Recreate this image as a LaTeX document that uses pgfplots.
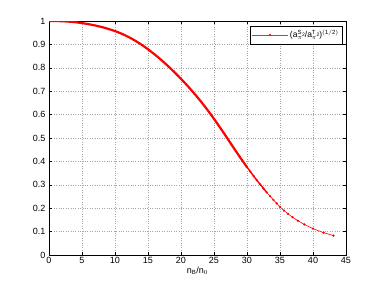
\documentclass[border=0pt]{standalone}
\usepackage{fontspec}
\setmainfont{Liberation Sans}
\usepackage{pgfplots}
\pgfplotsset{compat=1.18}
\newcommand{\two}{\hspace{-0.5pt}\raisebox{1.2pt}{\fontsize{5}{5}\selectfont 2}}
\begin{document}
\begin{tikzpicture}
\begin{axis}[
  scale only axis,
  width=297pt, height=234pt,
  xmin=0, xmax=45, ymin=0, ymax=1,
  xtick={0,5,...,45},
  ytick={0,0.1,...,1.0},
  yticklabels={0,0.1,0.2,0.3,0.4,0.5,0.6,0.7,0.8,0.9,1},
  tick align=inside,
  major tick length=3pt,
  tick style={black, line width=0.5pt},
  axis line style={black, line width=0.6pt},
  grid=major,
  major grid style={dotted, gray!70, line width=0.5pt},
  /pgf/number format/assume math mode=true,
  tick label style={font=\fontsize{9}{10}\selectfont},
  xticklabel style={yshift=1pt},
  xlabel={n$_{\mathrm{B}}$/n$_{0}$},
  xlabel style={font=\fontsize{9}{10}\selectfont, yshift=4pt},
  legend style={at={(0.99,0.98)}, anchor=north east, draw=black, line width=0.6pt,
    font=\fontsize{8.5}{10}\selectfont, inner xsep=2pt, inner ysep=2.5pt},
  legend cell align=left,
  legend image code/.code={\draw[red!85, line width=0.5pt, mark repeat=2, mark phase=2, mark=*, mark size=0.7pt, mark options={red}] plot coordinates {(0cm,0cm) (0.62cm,0cm) (1.24cm,0cm)};},
]
\addplot[red, line width=2.2pt, smooth, forget plot] coordinates {
(0,1.0000) (1,0.9998) (2,0.9990) (3,0.9974) (4,0.9948) (5,0.9910) (6,0.9864)
(7,0.9808) (8,0.9741) (9,0.9662) (10,0.9569) (11,0.9457) (12,0.9324) (13,0.9169)
(14,0.8992) (15,0.8793) (16,0.8574) (17,0.8337) (18,0.8083) (19,0.7813)
(20,0.7527) (21,0.7225) (22,0.6905) (23,0.6565) (24,0.6203) (25,0.5818)
(26,0.5413) (27,0.4995) (28,0.4573) (29,0.4155) (30,0.3755)
};
\addplot[red, line width=1.4pt, smooth, forget plot] coordinates {
(30,0.3755) (31,0.3375) (32,0.3015) (33,0.2675)
};
\addplot[red, line width=0.6pt, mark=*, mark size=0.8pt] coordinates {
(30.0,0.3755) (30.5,0.356) (31.0,0.3375) (31.5,0.319) (32.0,0.3015) (32.5,0.284)
(33.0,0.2675) (33.5,0.251) (34.0,0.2355) (34.5,0.2205) (35.0,0.2055) (35.6,0.190)
(36.2,0.176) (36.9,0.1615) (37.7,0.1465) (38.7,0.1305) (40.0,0.1125) (41.6,0.0955)
(43.1,0.083)
};
\addlegendentry{(a$^{\mathrm{S}}_{\pi}$\two/a$^{\mathrm{T}}_{\pi}$\two)$^{\mathrm{(1/2)}}$}
\end{axis}
\path ([shift={(-49pt,-32pt)}]current axis.south west) rectangle ([shift={(36pt,21pt)}]current axis.north east);
\end{tikzpicture}
\end{document}
